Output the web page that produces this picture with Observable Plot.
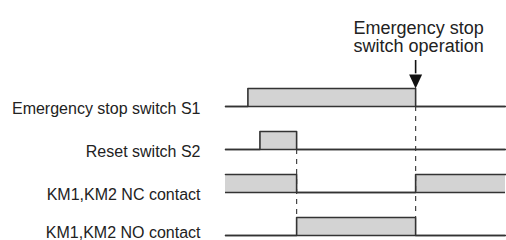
<!DOCTYPE html>
<html>
<head>
<meta charset="utf-8">
<script src="https://cdn.jsdelivr.net/npm/d3@7"></script>
<script src="https://cdn.jsdelivr.net/npm/@observablehq/plot@0.6"></script>
<style>
  html, body { margin: 0; padding: 0; background: #fff; }
  #chart svg { display: block; font-family: "Liberation Sans", Arial, Helvetica, sans-serif; }
</style>
</head>
<body>
<div id="chart"></div>
<script>
// Signal names (rows, top to bottom)
const signals = [
  "Emergency stop switch S1",
  "Reset switch S2",
  "KM1,KM2 NC contact",
  "KM1,KM2 NO contact"
];
// Event times (arbitrary time units)
const times = [0, 8, 12.3, 25.4, 67.9, 100];
// Levels held from each time until the next (step-after)
const s1 = [0, 1, 1, 1, 0, 0];
const s2 = [0, 0, 1, 0, 0, 0];
const nc = [1, 1, 1, 0, 1, 1];
const no = [0, 0, 0, 1, 0, 0];
const levels = [s1, s2, nc, no];
// Dashed guide lines: time, from row, to row
const guides = [
  {t: 67.9, from: 0, to: 3},
  {t: 25.4, from: 1, to: 3}
];
const annotation = "Emergency stop\nswitch operation";
const annotationTime = 67.9;

const H = 0.42; // pulse height in row units
const data = [];
levels.forEach((lv, row) => {
  times.forEach((t, j) => data.push({row, t, level: lv[j]}));
});
const yOf = d => d.row - d.level * H;
const ink = "#333";
const labelRows = signals.map((s, i) => ({s, i}));

const downTriangle = {
  draw(ctx) {
    ctx.moveTo(0, 0);
    ctx.lineTo(-6.5, -14);
    ctx.lineTo(6.5, -14);
    ctx.closePath();
  }
};

const labelStyle = {x: () => 0, y: "i", text: "s", textAnchor: "end", lineAnchor: "bottom", dx: -25, fontSize: 16, fill: "#222"};

const chart = Plot.plot({
  width: 506,
  height: 240,
  margin: 0,
  x: {domain: [0, 100], range: [225, 505], axis: null},
  y: {domain: [-2.465, 3.116], range: [0, 240], axis: null},
  marks: [
    Plot.areaY(data, {x: "t", y1: "row", y2: yOf, z: "row", curve: "step-after", fill: "#d3d3d3"}),
    Plot.ruleX(guides, {x: "t", y1: "from", y2: d => d.to - H, stroke: "#444", strokeWidth: 1.2, strokeDasharray: "5,5"}),
    Plot.ruleY(signals, {y: (d, i) => i, x1: 0, x2: 100, stroke: ink, strokeWidth: 1.6}),
    Plot.line(data, {x: "t", y: yOf, z: "row", curve: "step-after", stroke: ink, strokeWidth: 1.6}),
    Plot.text(labelRows.slice(0, 3), {...labelStyle, dy: 7.5}),
    Plot.text(labelRows.slice(3), {...labelStyle, dy: 2}),
    Plot.text([annotation], {x: () => annotationTime, y: () => -1.256, text: d => d, lineAnchor: "bottom", lineHeight: 1.05, fontSize: 18, dx: 3, fill: "#222"}),
    Plot.ruleX([annotationTime], {x: d => d, y1: -1.07, y2: -0.76, stroke: "#111", strokeWidth: 1.6}),
    Plot.dot([annotationTime], {x: d => d, y: () => -H, symbol: downTriangle, fill: "#111", stroke: null, r: 5})
  ]
});
document.getElementById("chart").appendChild(chart);
</script>
</body>
</html>
